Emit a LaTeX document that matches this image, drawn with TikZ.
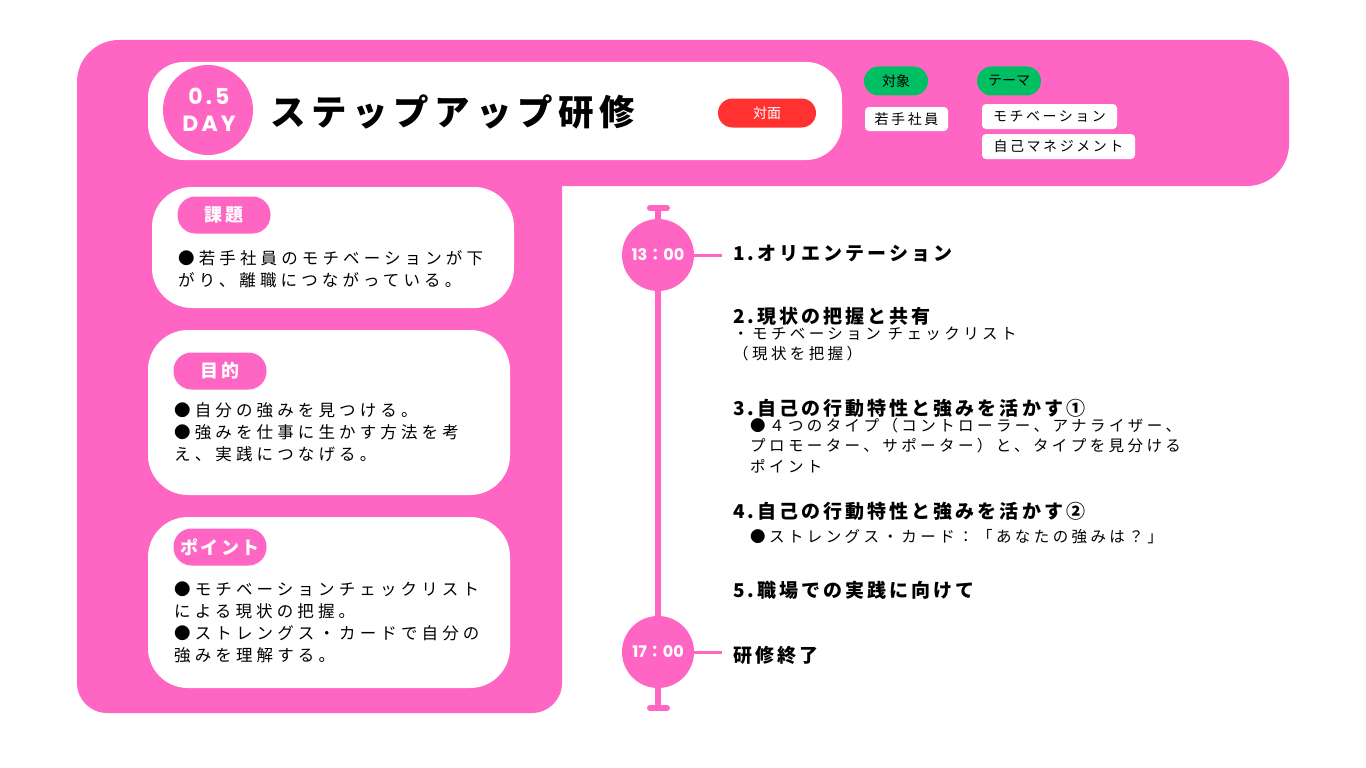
\documentclass[tikz,border=0pt]{standalone}
\usepackage{fontspec}
\setmainfont{Noto Sans CJK JP}
\newfontfamily\pop{Poppins}
\definecolor{pk}{HTML}{FF66C4}
\definecolor{gr}{HTML}{00BF63}
\definecolor{rd}{HTML}{FF3131}
\newcommand\fsz[2]{\fontsize{#1pt}{#2pt}\selectfont}
\newcommand\lsp[1]{\addfontfeature{LetterSpace=#1}}
\begin{document}
\begin{tikzpicture}[x=1pt,y=-1pt,
  txt/.style={inner sep=0pt, anchor=west},
  pill/.style={fill=pk, rounded corners=18pt, minimum width=93pt, minimum height=37pt, inner sep=0pt, text=white, font=\bfseries\fsz{18}{20}\lsp{12}},
  card/.style={fill=white, rounded corners=40pt, inner sep=0pt},
  body/.style={txt, font=\fsz{16.5}{22}\lsp{25}},
  head/.style={txt, font=\bfseries\fsz{19}{22}\lsp{16}},
  sub/.style={txt, font=\fsz{15.5}{20}\lsp{22}},
  tag/.style={fill=white, rounded corners=4pt, inner sep=0pt, minimum height=25pt, font=\fsz{14}{16}\lsp{18}},
  gpill/.style={fill=gr, rounded corners=14.5pt, minimum width=64pt, minimum height=29pt, inner sep=0pt, font=\fsz{14}{16}},
  tcirc/.style={circle, fill=pk, minimum size=72pt, inner sep=0pt, text=white, font=\bfseries\fsz{16}{18}},
  tline/.style={pk, line width=3pt}
]
\useasboundingbox (0,0) rectangle (1366,768);
\fill[white] (0,0) rectangle (1366,768);

% pink background L-shape
\fill[pk, rounded corners=42pt] (77,40) rectangle (1289,186);
\fill[pk, rounded corners=30pt] (77,100) rectangle (562,713);

% title box
\node[fill=white, rounded corners=36pt, minimum width=694pt, minimum height=98pt, inner sep=0pt] (title) at (495,111) {};
\node[circle, fill=pk, minimum size=90pt, inner sep=0pt] (day) at (208,110) {};
\node[txt, anchor=center, text=white, font=\pop\bfseries\fsz{22}{24}\lsp{14}] (dayA) at (209,96) {0.5};
\node[txt, anchor=center, text=white, font=\pop\bfseries\fsz{22}{24}\lsp{14}] (dayB) at (209,124) {DAY};
\node[txt, font=\bfseries\fsz{35.5}{40}\lsp{16}] (ttl) at (270,112) {ステップアップ研修};
\node[fill=rd, rounded corners=14.5pt, minimum width=98pt, minimum height=29pt, inner sep=0pt, text=white, font=\fsz{14}{16}] (mode) at (767,113) {対面};

% target / theme
\node[gpill] (tgt) at (896,81) {対象};
\node[gpill] (thm) at (1009,81) {テーマ};
\node[tag, minimum width=83pt, minimum height=24pt] (tg1) at (906.5,119) {若手社員};
\node[tag, minimum width=135pt] (th1) at (1049.5,116.5) {モチベーション};
\node[tag, minimum width=153pt] (th2) at (1058.5,146.5) {自己マネジメント};

% cards
\node[card, minimum width=362pt, minimum height=121pt] (c1) at (333,247.5) {};
\node[pill] (p1) at (224,215) {課題};
\node[body] (c1a) at (178,258) {●若手社員のモチベーションが下};
\node[body] (c1b) at (178,280) {がり、離職につながっている。};

\node[card, minimum width=362pt, minimum height=165pt] (c2) at (329,412.5) {};
\node[pill] (p2) at (220,371) {目的};
\node[body] (c2a) at (174,410) {●自分の強みを見つける。};
\node[body] (c2b) at (174,432) {●強みを仕事に生かす方法を考};
\node[body] (c2c) at (174,454) {え、実践につなげる。};

\node[card, minimum width=362pt, minimum height=171pt] (c3) at (329,602.5) {};
\node[pill] (p3) at (220,547) {ポイント};
\node[body] (c3a) at (174,589) {●モチベーションチェックリスト};
\node[body] (c3b) at (174,611) {による現状の把握。};
\node[body] (c3c) at (174,633) {●ストレングス・カードで自分の};
\node[body] (c3d) at (174,655) {強みを理解する。};

% timeline
\coordinate (tt) at (658,208);
\coordinate (tb) at (658,708);
\coordinate (ttl1) at (650,208); \coordinate (ttr1) at (667,208);
\coordinate (tbl1) at (650,708); \coordinate (tbr1) at (667,708);
\draw[pk, line width=6pt] (tt) -- (tb);
\draw[pk, line width=6pt, line cap=round] (ttl1) -- (ttr1);
\draw[pk, line width=6pt, line cap=round] (tbl1) -- (tbr1);
\node[tcirc] (t1) at (658,255) {{\pop 13}：{\pop 00}};
\node[tcirc] (t2) at (658,652) {{\pop 17}：{\pop 00}};
\coordinate (e1) at (722,255);
\coordinate (e2) at (722,652);
\draw[tline] (t1.east) -- (e1);
\draw[tline] (t2.east) -- (e2);

% schedule
\node[head] (h1) at (733,254) {1.オリエンテーション};
\node[head] (h2) at (733,316) {2.現状の把握と共有};
\node[sub] (s2a) at (733,334) {・モチベーション チェックリスト};
\node[sub] (s2b) at (733,354) {（現状を把握）};
\node[head] (h3) at (733,408) {3.自己の行動特性と強みを活かす①};
\node[sub] (s3a) at (750,426) {●４つのタイプ（コントローラー、アナライザー、};
\node[sub] (s3b) at (750,446) {プロモーター、サポーター）と、タイプを見分ける};
\node[sub] (s3c) at (750,466) {ポイント};
\node[head] (h4) at (733,511) {4.自己の行動特性と強みを活かす②};
\node[sub] (s4a) at (750,537) {●ストレングス・カード：「あなたの強みは？」};
\node[head] (h5) at (733,590) {5.職場での実践に向けて};
\node[head] (h6) at (733,655) {研修終了};
\end{tikzpicture}
\end{document}
